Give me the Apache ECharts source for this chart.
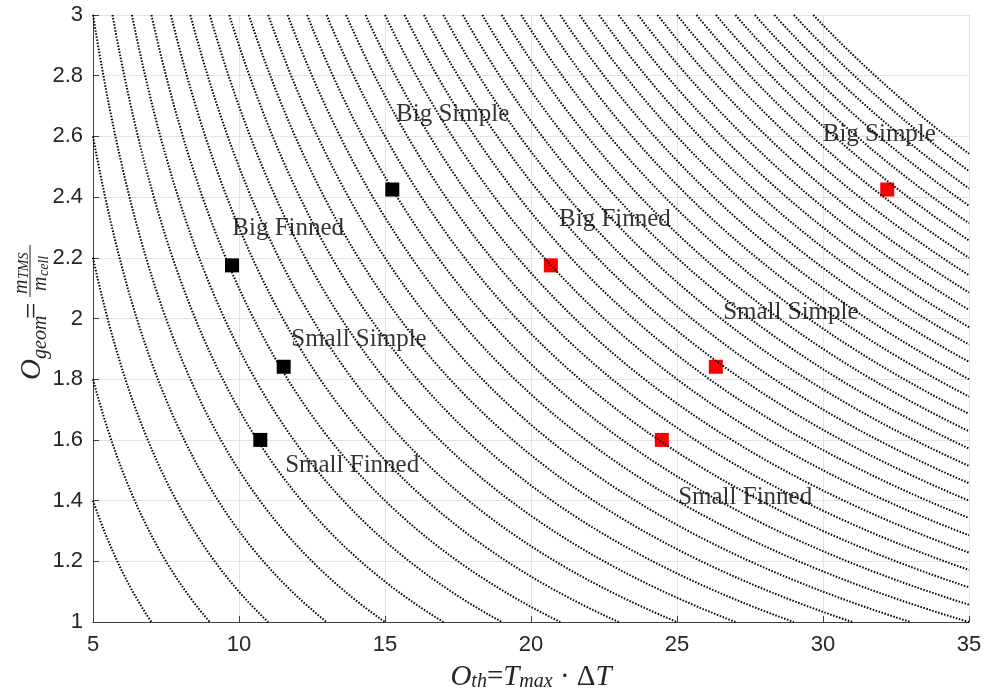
<!DOCTYPE html>
<html>
<head>
<meta charset="utf-8">
<script src="https://cdn.jsdelivr.net/npm/echarts@6/dist/echarts.min.js"></script>
<style>
html,body{margin:0;padding:0;background:#fff;}
#chart{width:987px;height:697px;}
</style>
</head>
<body>
<div id="chart"></div>
<script>
// ---- data ----
// Iso-lines of O_th * O_geom (contour levels)
const contourLevels = [7, 9, 11, 13, 15, 17, 19, 21, 23, 25, 27, 29, 31, 33, 35, 37, 39, 41, 43, 45, 47, 49, 51, 53, 55, 57, 59, 61, 63, 65, 67, 69, 71, 73, 75, 77, 79, 81, 83, 85, 87, 89];
const caseNames = ['Big Simple', 'Big Finned', 'Small Simple', 'Small Finned'];
const blackOth = [15.25, 9.76, 11.53, 10.73];
const redOth = [32.20, 20.68, 26.33, 24.48];
const caseOgeom = [2.425, 2.175, 1.841, 1.600];
// Annotation anchors (data coordinates, left-middle of text)
const blackLabelX = [15.38, 9.77, 11.79, 11.58];
const blackLabelY = [2.674, 2.298, 1.932, 1.517];
const redLabelX = [29.99, 20.96, 26.58, 25.04];
const redLabelY = [2.605, 2.325, 2.021, 1.409];
const xTicks = { min: 5, max: 35, step: 5 };
const yTicks = { min: 1, max: 3, step: 0.2 };

// ---- build ----
const chart = echarts.init(document.getElementById('chart'), null, { renderer: 'canvas' });
const SERIF = '"Liberation Serif", "Times New Roman", serif';
const SANS = '"Liberation Sans", Arial, Helvetica, sans-serif';

function isoLine(c) {
  const pts = [];
  const xa = Math.max(xTicks.min, c / yTicks.max);
  const xb = Math.min(xTicks.max, c / yTicks.min);
  const n = 160;
  for (let i = 0; i <= n; i++) {
    const x = xa + (xb - xa) * i / n;
    pts.push([x, c / x]);
  }
  return pts;
}

const series = [];
series.push({
  type: 'scatter',
  data: blackOth.map(function (x, i) { return [x, caseOgeom[i]]; }),
  symbol: 'rect', symbolSize: 14,
  itemStyle: { color: '#000', opacity: 1 },
  z: 2
});
series.push({
  type: 'scatter',
  data: redOth.map(function (x, i) { return [x, caseOgeom[i]]; }),
  symbol: 'rect', symbolSize: 14,
  itemStyle: { color: '#ff0000', opacity: 1 },
  z: 2
});
contourLevels.forEach(function (c) {
  series.push({
    type: 'line',
    data: isoLine(c),
    showSymbol: false,
    symbol: 'none',
    silent: true,
    lineStyle: { color: '#000', width: 2, type: [1.5, 1.6], cap: 'butt' },
    z: 3
  });
});
function annotations(xs, ys) {
  return {
    type: 'scatter',
    data: xs.map(function (x, i) { return { value: [x, ys[i]], name: caseNames[i] }; }),
    symbolSize: 0,
    silent: true,
    label: {
      show: true, position: 'inside', align: 'left', verticalAlign: 'middle',
      formatter: '{b}', color: '#000', fontFamily: SERIF, fontSize: 25
    },
    z: 6
  };
}
series.push(annotations(blackLabelX, blackLabelY));
series.push(annotations(redLabelX, redLabelY));

const axisColor = '#404040';
const option = {
  animation: false,
  backgroundColor: '#fff',
  grid: { left: 93, right: 18, top: 15, bottom: 75, containLabel: false },
  xAxis: {
    type: 'value', min: xTicks.min, max: xTicks.max, interval: xTicks.step,
    axisLine: { show: true, lineStyle: { color: axisColor, width: 1 } },
    axisTick: { show: true, inside: true, length: 6, lineStyle: { color: axisColor } },
    axisLabel: { color: '#262626', fontFamily: SANS, fontSize: 22, margin: 12 },
    splitLine: { show: true, lineStyle: { color: '#e3e3e3', width: 1 } },
    name: '{i|O}{s|th}{n|=}{i|T}{s|max}{n| · Δ}{i|T}',
    nameLocation: 'middle', nameGap: 40,
    nameTextStyle: {
      rich: {
        i: { fontFamily: SERIF, fontStyle: 'italic', fontSize: 29, color: '#262626', lineHeight: 30, verticalAlign: 'middle' },
        n: { fontFamily: SERIF, fontSize: 29, color: '#262626', lineHeight: 30, verticalAlign: 'middle' },
        s: { fontFamily: SERIF, fontStyle: 'italic', fontSize: 20, color: '#262626', lineHeight: 14, verticalAlign: 'bottom' }
      }
    }
  },
  yAxis: {
    type: 'value', min: yTicks.min, max: yTicks.max, interval: yTicks.step,
    axisLine: { show: true, lineStyle: { color: axisColor, width: 1 } },
    axisTick: { show: true, inside: true, length: 6, lineStyle: { color: axisColor } },
    axisLabel: { color: '#262626', fontFamily: SANS, fontSize: 22, margin: 10 },
    splitLine: { show: true, lineStyle: { color: '#e3e3e3', width: 1 } }
  },
  graphic: [{
    type: 'group',
    x: 42, y: 380,
    rotation: Math.PI / 2,
    silent: true,
    children: [
      { type: 'text', x: 0, y: -10, style: { text: 'O', font: 'italic 29px ' + SERIF, fill: '#262626', textAlign: 'left', textVerticalAlign: 'middle' } },
      { type: 'text', x: 21, y: -1, style: { text: 'geom', font: 'italic 20px ' + SERIF, fill: '#262626', textAlign: 'left', textVerticalAlign: 'middle' } },
      { type: 'text', x: 61, y: -9, style: { text: '=', font: '29px ' + SERIF, fill: '#262626', textAlign: 'left', textVerticalAlign: 'middle' } },
      { type: 'line', shape: { x1: 83, y1: -12, x2: 135, y2: -12 }, style: { stroke: '#262626', lineWidth: 1 } },
      { type: 'text', x: 86, y: -20, style: { text: 'm', font: 'italic 20px ' + SERIF, fill: '#262626', textAlign: 'left', textVerticalAlign: 'middle' } },
      { type: 'text', x: 101, y: -18, style: { text: 'TMS', font: 'italic 14px ' + SERIF, fill: '#262626', textAlign: 'left', textVerticalAlign: 'middle' } },
      { type: 'text', x: 89, y: -1, style: { text: 'm', font: 'italic 20px ' + SERIF, fill: '#262626', textAlign: 'left', textVerticalAlign: 'middle' } },
      { type: 'text', x: 104, y: 2, style: { text: 'cell', font: 'italic 14px ' + SERIF, fill: '#262626', textAlign: 'left', textVerticalAlign: 'middle' } }
    ]
  }],
  series: series
};
chart.setOption(option);
</script>
</body>
</html>
